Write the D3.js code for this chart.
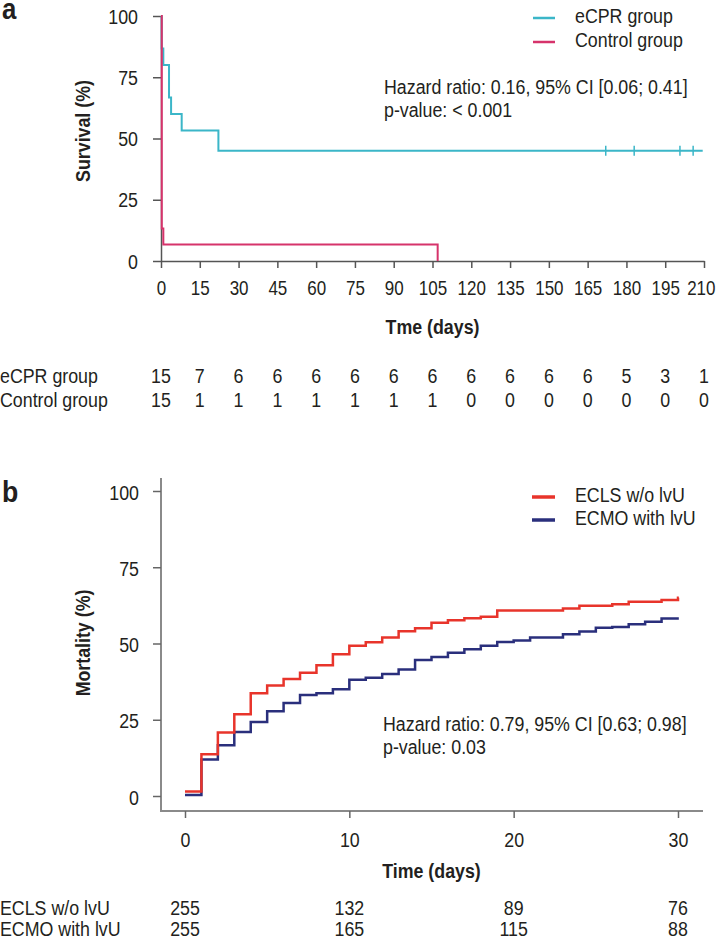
<!DOCTYPE html>
<html><head><meta charset="utf-8">
<script src="https://cdn.jsdelivr.net/npm/d3@7"></script>
<style>
html,body{margin:0;padding:0;background:#fff;}
svg text{font-family:"Liberation Sans",Arial,Helvetica,sans-serif;fill:#231f20;}
</style></head><body>
<svg id="chart" width="716" height="941"></svg>
<script>
// ---------- Panel a data ----------
const ticksA = [0,15,30,45,60,75,90,105,120,135,150,165,180,195,210];
const riskEcpr = [15,7,6,6,6,6,6,6,6,6,6,6,5,3,1];
const riskControl = [15,1,1,1,1,1,1,1,0,0,0,0,0,0,0];
const ecprTime = [0,0.25,0.9,3.1,3.9,8.0,22.2,209.5];
const ecprSurv = [100,86.7,80,66.7,60,53.3,45,45];
const ecprCensor = [172,183,200.7,205.8];
const controlTime = [0,0.3,0.9,107];
const controlSurv = [100,13.3,6.7,0];
const yTicks = [0,25,50,75,100];

// ---------- Panel b data ----------
const ticksB = [0,10,20,30];
const daysB = [0,1,2,3,4,5,6,7,8,9,10,11,12,13,14,15,16,17,18,19,20,21,22,23,24,25,26,27,28,29,30];
const eclsMort = [1.5,13.7,20.8,26.8,33.7,36.2,38.4,40.4,42.9,46.5,49.3,50.4,52.0,54.0,55.0,56.8,57.6,58.3,58.8,60.8,60.8,60.8,60.8,61.5,62.4,62.4,62.9,63.7,63.7,64.3,65.0];
const ecmoMort = [0.3,12.0,16.6,21.0,24.3,27.8,30.5,33.1,33.7,35.0,38.1,38.8,40.0,41.5,44.6,45.6,47.0,48.1,49.3,50.5,51.0,52.0,52.0,53.0,53.9,55.2,55.4,56.3,57.1,58.2,58.2];
const riskEcls = [255,132,89,76];
const riskEcmo = [255,165,115,88];

const C_CYAN = "#3bb6c8", C_PINK = "#d6336b", C_RED = "#e8342b", C_NAVY = "#2a2f7c";
const SX = 0.89;
const svg = d3.select("#chart");

function label(g, x, y, s, o = {}) {
  const size = o.size || 20;
  return g.append("text")
    .attr("transform", `translate(${x},${y})` + (o.rotate ? ` rotate(${o.rotate})` : "") + ` scale(${SX},1)`)
    .attr("text-anchor", o.anchor || "start")
    .style("font-size", size + "px")
    .style("font-weight", o.weight || "normal")
    .text(s);
}
function styleAxis(g, color, width, dx, dy, sx) {
  g.attr("font-size", null).attr("font-family", null);
  g.selectAll("path.domain").attr("stroke", color).attr("stroke-width", width);
  g.selectAll(".tick line").attr("stroke", color).attr("stroke-width", width);
  g.selectAll(".tick text").attr("x", null).attr("y", null).attr("dy", null)
    .attr("transform", `translate(${dx},${dy}) scale(${sx},1)`).style("font-size", "20px").attr("fill", null);
}

// ================= Panel a =================
const xA = d3.scaleLinear([0,210],[161,704]);
const yA = d3.scaleLinear([0,100],[261,16]);
const gA = svg.append("g");

const axA = gA.append("g").attr("transform", `translate(0,${yA(0)})`)
  .call(d3.axisBottom(xA).tickValues(ticksA).tickSize(7).tickSizeOuter(0));
styleAxis(axA, "#555", 1.5, 0, 34, 0.85);
// keep the last tick label inside the picture
axA.selectAll(".tick").each(function(d) {
  const t = d3.select(this).select("text");
  const w = t.node().getComputedTextLength() * 0.85;
  const right = xA(d) + w / 2;
  if (right > 715) t.attr("transform", `translate(${715 - right},34) scale(0.85,1)`);
});
const ayA = gA.append("g").attr("transform", `translate(${xA(0)},0)`)
  .call(d3.axisLeft(yA).tickValues(yTicks).tickSize(8).tickSizeOuter(0));
styleAxis(ayA, "#555", 1.5, -23, 7, SX);

const lineA = d3.line().x(d => xA(d[0])).y(d => yA(d[1])).curve(d3.curveStepAfter);
gA.append("path").datum(d3.zip(ecprTime, ecprSurv)).attr("d", lineA)
  .attr("fill", "none").attr("stroke", C_CYAN).attr("stroke-width", 2);
gA.selectAll(".cens").data(ecprCensor).join("line")
  .attr("x1", d => xA(d)).attr("x2", d => xA(d))
  .attr("y1", yA(45) - 5).attr("y2", yA(45) + 5)
  .attr("stroke", C_CYAN).attr("stroke-width", 1.5);
gA.append("path").datum(d3.zip(controlTime, controlSurv)).attr("d", lineA)
  .attr("fill", "none").attr("stroke", C_PINK).attr("stroke-width", 2);

// legend a
const legA = [["eCPR group", C_CYAN], ["Control group", C_PINK]];
legA.forEach((d, i) => {
  const by = 23 + i * 24;
  gA.append("line").attr("x1", 533).attr("x2", 555).attr("y1", by - 5).attr("y2", by - 5)
    .attr("stroke", d[1]).attr("stroke-width", 2.5);
  label(gA, 575, by, d[0]);
});
label(gA, 384, 94, "Hazard ratio: 0.16, 95% CI [0.06; 0.41]");
label(gA, 384, 117, "p-value: < 0.001");

label(gA, 2, 19, "a", {size: 29, weight: "bold"});
label(gA, 90, 131, "Survival (%)", {weight: "bold", anchor: "middle", rotate: -90});
label(gA, (xA(0) + xA(210)) / 2, 334, "Tme (days)", {weight: "bold", anchor: "middle"});

// risk table a
label(gA, 0, 383, "eCPR group");
label(gA, 0, 407, "Control group");
ticksA.forEach((t, i) => {
  label(gA, xA(t), 383, riskEcpr[i], {anchor: "middle"});
  label(gA, xA(t), 407, riskControl[i], {anchor: "middle"});
});

// ================= Panel b =================
const xB = d3.scaleLinear([0,30],[185,678]);
const yB = d3.scaleLinear([0,100],[796,491]);
const gB = svg.append("g");
const AXB = "#8a8a8a";

gB.append("line").attr("x1", 161).attr("x2", 161).attr("y1", 478).attr("y2", 811)
  .attr("stroke", AXB).attr("stroke-width", 2);
gB.append("line").attr("x1", 160).attr("x2", 703).attr("y1", 811).attr("y2", 811)
  .attr("stroke", AXB).attr("stroke-width", 2);
const axB = gB.append("g").attr("transform", "translate(0,811)")
  .call(d3.axisBottom(xB).tickValues(ticksB).tickSize(7).tickSizeOuter(0));
axB.select("path.domain").remove();
styleAxis(axB, "#666", 1.5, 0, 36, SX);
const ayB = gB.append("g").attr("transform", "translate(161,0)")
  .call(d3.axisLeft(yB).tickValues(yTicks).tickSize(8).tickSizeOuter(0));
ayB.select("path.domain").remove();
styleAxis(ayB, "#666", 1.5, -22, 8, SX);

const lineB = d3.line().x(d => xB(d[0])).y(d => yB(d[1])).curve(d3.curveStepAfter);
gB.append("path").datum(d3.zip(daysB, ecmoMort).concat([[30.05, ecmoMort[30]]])).attr("d", lineB)
  .attr("fill", "none").attr("stroke", C_NAVY).attr("stroke-width", 2.5);
gB.append("path").datum(d3.zip(daysB, eclsMort).concat([[30.05, eclsMort[30]]])).attr("d", lineB)
  .attr("fill", "none").attr("stroke", C_RED).attr("stroke-width", 2.5);

const legB = [["ECLS w/o lvU", C_RED], ["ECMO with lvU", C_NAVY]];
legB.forEach((d, i) => {
  const by = 502 + i * 23;
  gB.append("line").attr("x1", 532).attr("x2", 555).attr("y1", by - 5).attr("y2", by - 5)
    .attr("stroke", d[1]).attr("stroke-width", 3.5);
  label(gB, 575, by, d[0]);
});
label(gB, 383, 731, "Hazard ratio: 0.79, 95% CI [0.63; 0.98]");
label(gB, 383, 754, "p-value: 0.03");

label(gB, 2, 502, "b", {size: 30, weight: "bold"});
label(gB, 90, 643, "Mortality (%)", {weight: "bold", anchor: "middle", rotate: -90});
label(gB, (xB(0) + xB(30)) / 2, 878, "Time (days)", {weight: "bold", anchor: "middle"});

label(gB, 0, 915, "ECLS w/o lvU");
label(gB, 0, 936, "ECMO with lvU");
ticksB.forEach((t, i) => {
  label(gB, xB(t), 915, riskEcls[i], {anchor: "middle"});
  label(gB, xB(t), 936, riskEcmo[i], {anchor: "middle"});
});
</script>
</body></html>
